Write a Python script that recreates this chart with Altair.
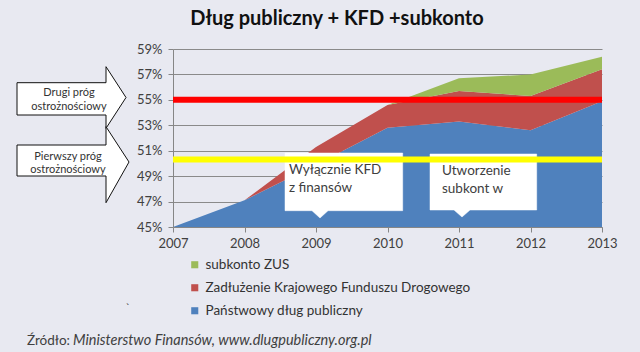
import altair as alt
import pandas as pd

# ---------------- data ----------------
years = [2007, 2008, 2009, 2010, 2011, 2012, 2013]
dlug_panstwowy = [45.0, 47.1, 49.9, 52.8, 53.3, 52.6, 54.9]
kfd = [0.0, 0.0, 1.4, 1.8, 2.4, 2.7, 2.5]
subkonto = [0.0, 0.0, 0.0, 0.0, 1.0, 1.7, 1.0]
series_names = ["subkonto ZUS", "Zadłużenie Krajowego Funduszu Drogowego", "Państwowy dług publiczny"]
series_colors = ["#9bbb59", "#c0504d", "#4f81bd"]
y_ticks = [45, 47, 49, 51, 53, 55, 57, 59]
thresholds = [55.0, 50.3]
threshold_colors = ["#ff0000", "#ffff00"]

title_text = "Dług publiczny + KFD +subkonto"
arrow_texts = [["Drugi próg", "ostrożnościowy"], ["Pierwszy próg", "ostrożnościowy"]]
callout_texts = [["Wyłącznie KFD", "z finansów"], ["Utworzenie", "subkont w"]]
source_label = "Źródło:"
source_text = "Ministerstwo Finansów, www.dlugpubliczny.org.pl"

FONT = "Lato"
BG = "#e8e9f1"
TXT = "#404040"

rows = []
for i, yr in enumerate(years):
    rows.append({"year": yr, "series": series_names[2], "value": dlug_panstwowy[i], "ord": 0})
    rows.append({"year": yr, "series": series_names[1], "value": kfd[i], "ord": 1})
    rows.append({"year": yr, "series": series_names[0], "value": subkonto[i], "ord": 2})
df = pd.DataFrame(rows)

W, H = 429, 178
PAD_L, PAD_T = 173, 49
TOTAL_W, TOTAL_H = 640, 352

xs = alt.Scale(domain=[2007, 2013], nice=False, zero=False)
ys = alt.Scale(domain=[45, 59], nice=False, zero=False)

areas = alt.Chart(df).mark_area(clip=True, opacity=1).encode(
    x=alt.X("year:Q", scale=xs, axis=alt.Axis(
        values=years, format="d", title=None, grid=False, ticks=True, tickSize=5,
        domainColor="#868686", tickColor="#868686", labelFont=FONT, labelFontSize=13,
        labelColor=TXT, labelPadding=5, labelFlush=False)),
    y=alt.Y("value:Q", stack="zero", scale=ys, axis=alt.Axis(
        values=y_ticks, title=None, grid=True, gridColor="#8a8a8a", gridWidth=1,
        ticks=True, tickSize=5, tickColor="#868686", domainColor="#868686",
        labelExpr="datum.value + '%'", labelFont=FONT, labelFontSize=13,
        labelColor=TXT, labelPadding=6)),
    color=alt.Color("series:N", scale=alt.Scale(domain=series_names, range=series_colors),
                    legend=alt.Legend(title=None, orient="none", legendX=15, legendY=209,
                                      symbolType="square", symbolSize=50, symbolStrokeWidth=0,
                                      labelFont=FONT, labelFontSize=13.5, labelColor="#333333",
                                      rowPadding=8, labelOffset=4, padding=0, labelLimit=400)),
    order=alt.Order("ord:Q", sort="ascending"),
)

# threshold lines
thr_df = pd.DataFrame({"x0": [years[0]] * 2, "x1": [years[-1]] * 2, "y": thresholds, "c": threshold_colors})
rules = alt.Chart(thr_df).mark_rule(strokeWidth=6).encode(
    x=alt.X("x0:Q", scale=xs, axis=None), x2="x1:Q",
    y=alt.Y("y:Q", scale=ys, axis=None),
    stroke=alt.Stroke("c:N", scale=None),
)

# pixel-space annotation scales
px = alt.Scale(domain=[0, TOTAL_W], range=[-PAD_L, TOTAL_W - PAD_L], nice=False, zero=False)
py = alt.Scale(domain=[0, TOTAL_H], range=[-PAD_T, TOTAL_H - PAD_T], nice=False, zero=False)


def path_shape(path, fill, stroke, sw):
    # custom symbol anchored at page origin; size=4 gives a 1:1 pixel scale for the path
    d = pd.DataFrame({"px": [0], "py": [0]})
    return alt.Chart(d).mark_point(shape=path, size=4, filled=True, fill=fill, stroke=stroke,
                                   strokeWidth=sw, opacity=1, fillOpacity=1, strokeOpacity=1).encode(
        x=alt.X("px:Q", scale=px, axis=None),
        y=alt.Y("py:Q", scale=py, axis=None))


def text_layer(items, **kw):
    d = pd.DataFrame(items, columns=["px", "py", "t"])
    return alt.Chart(d).mark_text(**kw).encode(
        x=alt.X("px:Q", scale=px, axis=None),
        y=alt.Y("py:Q", scale=py, axis=None),
        text="t:N")


arrow1 = path_shape("M17,82.7L106,82.7L106,66.7L126,97.5L106,128.3L106,115L17,115Z", "white", "#111111", 1)
arrow2 = path_shape("M17,145L106,145L106,126.7L129,162L106,202.7L106,176L17,176Z", "white", "#111111", 1)

arrow_txt = text_layer([
    [69, 93, arrow_texts[0][0]], [69, 107, arrow_texts[0][1]],
    [68, 157, arrow_texts[1][0]], [68, 170, arrow_texts[1][1]],
], font=FONT, fontSize=11, color="#333333", align="center", baseline="middle")

callout1 = path_shape("M285,153L402.7,153L402.7,210.7L328,210.7L320,218L312,210.7L285,210.7Z", "white", "white", 0.5)
callout2 = path_shape("M430,154L536.7,154L536.7,210L470,210L462,217L454,210L430,210Z", "white", "white", 0.5)

callout_txt = text_layer([
    [289, 170, callout_texts[0][0]], [289, 188, callout_texts[0][1]],
    [442, 171, callout_texts[1][0]], [442, 189, callout_texts[1][1]],
], font=FONT, fontSize=13.5, color=TXT, align="left", baseline="middle")

title = text_layer([[337, 19, title_text]], font=FONT, fontSize=20, fontWeight="bold",
                   color="#111111", align="center", baseline="middle")
src1 = text_layer([[27, 341, source_label]], font=FONT, fontSize=13.5, color="#404040",
                  align="left", baseline="middle")
src2 = text_layer([[73, 341, source_text]], font=FONT, fontSize=14.5, fontStyle="italic",
                  color="#404040", align="left", baseline="middle")
stray = text_layer([[128, 309, "`"]], font=FONT, fontSize=11, color="#333333",
                   align="center", baseline="middle")

chart = alt.layer(
    areas, callout1, callout2, rules, callout_txt, arrow1, arrow2, arrow_txt, title, src1, src2, stray
).resolve_scale(x="independent", y="independent").properties(
    width=W, height=H,
    autosize=alt.AutoSizeParams(type="none"),
    padding={"left": PAD_L, "top": PAD_T, "right": TOTAL_W - PAD_L - W, "bottom": TOTAL_H - PAD_T - H},
    background=BG,
).configure_view(stroke=None)

chart.save("out.html", embed_options={"renderer": "svg", "actions": False})
